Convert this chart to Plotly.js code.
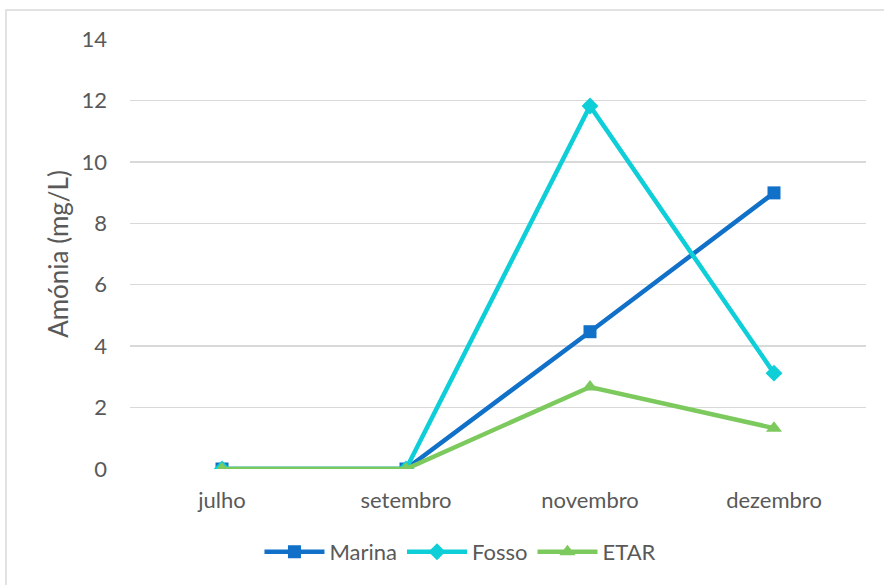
<!DOCTYPE html>
<html>
<head>
<meta charset="utf-8">
<script src="https://cdn.plot.ly/plotly-3.0.1.min.js"></script>
<style>
  html, body { margin: 0; padding: 0; background: #fff; }
  #chart { width: 884px; height: 585px; }
</style>
</head>
<body>
<div id="chart"></div>
<script>
// Ammonium concentration by sampling month
const months = ['julho', 'setembro', 'novembro', 'dezembro'];
const marina = [0, 0, 4.47, 8.99];
const fosso  = [0, 0, 11.82, 3.12];
const etar   = [0, 0, 2.67, 1.33];
const yTicks = [0, 2, 4, 6, 8, 10, 12, 14];

const font = 'Lato, "Open Sans", sans-serif';
const grey = '#595959';

function series(name, y, color, symbol, size) {
  return {
    type: 'scatter', mode: 'lines+markers', name: name,
    x: months, y: y,
    line: { color: color, width: 4.5 },
    marker: { color: color, symbol: symbol, size: size }
  };
}

const data = [
  series('Marina', marina, '#1170C8', 'square', 13),
  series('Fosso', fosso, '#0ECED8', 'diamond', 13),
  series('ETAR', etar, '#7CC95E', 'triangle-up', 14)
];

const layout = {
  width: 884, height: 585,
  margin: { l: 130, r: 18, t: 39, b: 116 },
  paper_bgcolor: '#fff', plot_bgcolor: '#fff',
  font: { family: font, color: grey, size: 22 },
  showlegend: true,
  legend: {
    orientation: 'h', x: 0.449, xanchor: 'center', y: -0.193, yanchor: 'middle',
    font: { family: font, size: 22, color: grey },
    itemwidth: 60, tracegroupgap: 0
  },
  xaxis: {
    type: 'category', range: [-0.5, 3.5],
    showgrid: false, zeroline: false, showline: false,
    ticks: '', ticklabelstandoff: 16,
    tickfont: { family: font, size: 22, color: grey }
  },
  yaxis: {
    range: [0, 14], tickvals: yTicks, ticktext: yTicks.map(String),
    showgrid: true, gridcolor: '#D9D9D9', gridwidth: 1.3,
    zeroline: false, showline: false, ticks: '',
    ticklabelstandoff: 22,
    tickfont: { family: font, size: 22, color: grey },
    title: { text: 'Amónia (mg/L)', font: { family: font, size: 26, color: grey }, standoff: 5 }
  },
  shapes: [{
    type: 'rect', xref: 'paper', yref: 'paper',
    x0: -124 / 736, x1: 1 + 30 / 736, y0: -130 / 430, y1: 1 + 29 / 430,
    line: { color: '#D9D9D9', width: 1.5 }, layer: 'below'
  }]
};

Plotly.newPlot('chart', data, layout, { displayModeBar: false, staticPlot: true });
</script>
</body>
</html>
